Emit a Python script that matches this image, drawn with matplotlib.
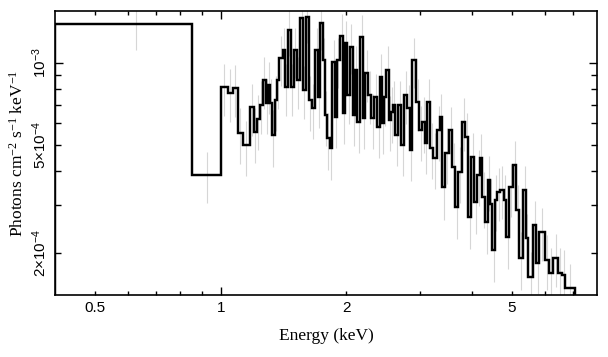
import matplotlib
matplotlib.use('Agg')
import matplotlib.pyplot as plt
import numpy as np
from matplotlib.ticker import FixedLocator, FixedFormatter

# ---- data (energy bin edges in keV, flux in 1e-4 photons cm^-2 s^-1 keV^-1) ----
edges_kev = [0.4, 0.852, 1.000, 1.040, 1.069, 1.099, 1.130, 1.174, 1.200, 1.221,
             1.241, 1.262, 1.283, 1.297, 1.312, 1.326, 1.348, 1.363, 1.379, 1.409,
             1.425, 1.449, 1.473, 1.498, 1.523, 1.549, 1.575, 1.601, 1.628, 1.655,
             1.683, 1.711, 1.730, 1.759, 1.778, 1.798, 1.828, 1.849, 1.880, 1.900,
             1.932, 1.965, 1.986, 2.009, 2.042, 2.076, 2.099, 2.123, 2.158, 2.195,
             2.219, 2.256, 2.294, 2.332, 2.371, 2.411, 2.438, 2.465, 2.493, 2.534,
             2.563, 2.591, 2.620, 2.664, 2.708, 2.754, 2.800, 2.847, 2.878, 2.943,
             2.992, 3.042, 3.093, 3.128, 3.180, 3.233, 3.306, 3.361, 3.398, 3.455,
             3.533, 3.592, 3.652, 3.713, 3.796, 3.860, 3.924, 3.990, 4.057, 4.125,
             4.194, 4.241, 4.312, 4.384, 4.433, 4.482, 4.557, 4.608, 4.685, 4.790,
             4.843, 4.925, 5.035, 5.119, 5.205, 5.321, 5.411, 5.471, 5.623, 5.718,
             5.813, 6.010, 6.144, 6.282, 6.458, 6.603, 6.713, 7.096]

flux_1e4 = [13.9, 3.88, 8.16, 7.78, 8.09, 5.53, 4.99, 6.89, 5.57, 6.22,
            7.01, 8.66, 7.13, 8.30, 7.13, 5.43, 7.31, 8.66, 10.43, 11.16,
            8.16, 13.22, 8.16, 11.16, 8.66, 14.6, 7.96, 14.8, 7.31, 6.83,
            11.16, 7.5, 14.0, 10.26, 6.44, 5.30, 4.87, 10.08, 6.33, 10.26,
            12.56, 6.55, 11.85, 7.63, 11.5, 6.44, 9.43, 6.07, 12.46, 6.27,
            9.19, 7.63, 6.27, 7.50, 5.81, 8.87, 6.02, 7.50, 9.43, 6.17,
            6.61, 7.01, 5.43, 7.01, 4.99, 7.63, 6.83, 4.79, 10.26, 7.18,
            5.67, 6.07, 5.08, 7.18, 4.87, 4.48, 5.67, 6.33, 3.49, 4.67,
            5.67, 4.14, 2.96, 3.98, 6.07, 5.35, 2.72, 4.51, 3.08, 3.88,
            4.48, 3.22, 2.61, 3.71, 3.03, 2.05, 3.14, 3.36, 3.41, 3.14,
            2.29, 3.49, 4.22, 2.88, 1.92, 3.41, 2.27, 1.63, 2.54, 1.84,
            2.39, 1.89, 1.69, 1.92, 1.69, 1.66, 1.49]

rel_err = [0.20, 0.21, 0.22, 0.22, 0.22, 0.23, 0.23, 0.22, 0.23, 0.23,
           0.22, 0.22, 0.23, 0.22, 0.23, 0.24, 0.23, 0.22, 0.21, 0.21,
           0.22, 0.20, 0.22, 0.21, 0.22, 0.20, 0.22, 0.20, 0.23, 0.23,
           0.21, 0.23, 0.20, 0.21, 0.23, 0.24, 0.24, 0.21, 0.23, 0.21,
           0.21, 0.23, 0.21, 0.22, 0.21, 0.23, 0.22, 0.23, 0.21, 0.23,
           0.22, 0.22, 0.23, 0.22, 0.23, 0.22, 0.23, 0.22, 0.22, 0.23,
           0.23, 0.22, 0.23, 0.22, 0.23, 0.22, 0.22, 0.23, 0.21, 0.22,
           0.23, 0.23, 0.23, 0.22, 0.23, 0.23, 0.23, 0.22, 0.24, 0.23,
           0.22, 0.23, 0.24, 0.23, 0.22, 0.22, 0.24, 0.23, 0.24, 0.23,
           0.22, 0.23, 0.24, 0.23, 0.23, 0.24, 0.23, 0.22, 0.22, 0.23,
           0.24, 0.22, 0.22, 0.23, 0.24, 0.22, 0.23, 0.24, 0.22, 0.23,
           0.22, 0.23, 0.23, 0.22, 0.23, 0.23, 0.22]

x_major = [1]
x_major_labels = ['1']
x_minor = [0.5, 0.6, 0.7, 0.8, 0.9, 2, 3, 4, 5, 6, 7]
x_minor_labels = ['0.5', '', '', '', '', '2', '', '', '5', '', '']
y_major = [1e-3]
y_major_labels = [r'$\mathsf{10^{-3}}$']
y_minor = [2e-4, 3e-4, 4e-4, 5e-4, 6e-4, 7e-4, 8e-4, 9e-4]
y_minor_labels = [r'$\mathsf{2{\times}10^{-4}}$', '', '', r'$\mathsf{5{\times}10^{-4}}$', '', '', '', '']

plt.rcParams['mathtext.fontset'] = 'custom'
plt.rcParams['mathtext.rm'] = 'Liberation Serif'
plt.rcParams['mathtext.it'] = 'Liberation Serif:italic'
plt.rcParams['mathtext.sf'] = 'Liberation Sans'
plt.rcParams['font.family'] = ['Liberation Sans', 'DejaVu Sans']

edges = np.array(edges_kev)
flux = np.array(flux_1e4) * 1e-4
err = flux * np.array(rel_err)
centers = 0.5 * (edges[:-1] + edges[1:])

fig = plt.figure(figsize=(6.08, 3.57), dpi=100)
ax = fig.add_axes([0.0905, 0.1737, 0.8915, 0.7946])

ax.errorbar(centers, flux, yerr=err, fmt='none', ecolor='#d6d6d6', elinewidth=0.8,
            capsize=0, zorder=1)
ax.stairs(flux, edges, baseline=1e-4, color='black', linewidth=1.75, zorder=2)

ax.set_xscale('log')
ax.set_yscale('log')
ax.set_xlim(0.4, 8.0)
ax.set_ylim(1.40e-4, 1.55e-3)

ax.xaxis.set_major_locator(FixedLocator(x_major))
ax.xaxis.set_major_formatter(FixedFormatter(x_major_labels))
ax.xaxis.set_minor_locator(FixedLocator(x_minor))
ax.xaxis.set_minor_formatter(FixedFormatter(x_minor_labels))
ax.yaxis.set_major_locator(FixedLocator(y_major))
ax.yaxis.set_major_formatter(FixedFormatter(y_major_labels))
ax.yaxis.set_minor_locator(FixedLocator(y_minor))
ax.yaxis.set_minor_formatter(FixedFormatter(y_minor_labels))

ax.tick_params(axis='both', which='both', direction='in', top=True, right=True,
               width=1.0, color='black', labelsize=11, labelcolor='black')
ax.tick_params(axis='x', which='major', length=5.8, pad=4)
ax.tick_params(axis='x', which='minor', length=3.0, pad=4)
ax.tick_params(axis='y', which='major', length=5.8, pad=4, labelrotation=90)
ax.tick_params(axis='y', which='minor', length=4.5, pad=4, labelrotation=90)
for lab in ax.get_yticklabels(which='both'):
    lab.set_verticalalignment('center')

for sp in ax.spines.values():
    sp.set_linewidth(1.2)
    sp.set_color('black')

ax.set_xlabel('Energy (keV)', family=['Liberation Serif', 'DejaVu Serif'], fontsize=12.5, labelpad=10)
ax.set_ylabel(r'Photons cm$^{-2}$ s$^{-1}$ keV$^{-1}$', family=['Liberation Serif', 'DejaVu Serif'],
              fontsize=12.5, labelpad=3)

fig.savefig('out.png', dpi=100)
